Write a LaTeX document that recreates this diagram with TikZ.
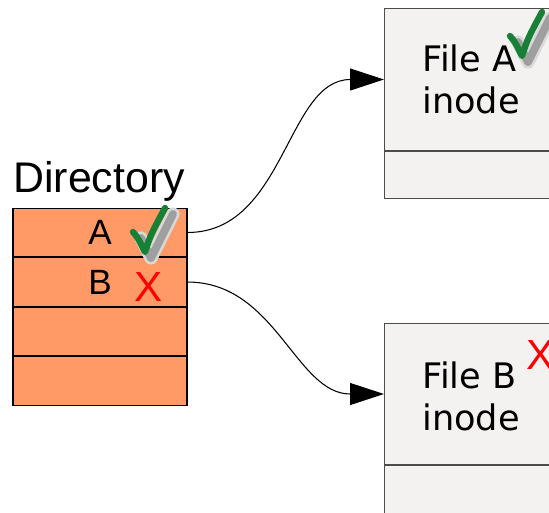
\documentclass[tikz,border=0pt]{standalone}
\usepackage{fontspec}
\setmainfont{Liberation Sans}
\newfontfamily\inodefont{DejaVu Sans}
\usepackage{tikz}
\usetikzlibrary{arrows.meta,positioning,calc}
\definecolor{dirfill}{RGB}{255,153,102}
\definecolor{inodefill}{RGB}{244,241,241}
\definecolor{okgreen}{RGB}{22,128,52}
\tikzset{
  slot/.style={draw=black, line width=0.6pt, fill=dirfill, minimum width=3.48cm,
    minimum height=0.97cm, inner sep=0pt, font=\fontsize{20}{24}\selectfont},
  inodebox/.style={draw=black!70, line width=0.6pt, fill=inodefill, minimum width=5.12cm,
    inner sep=0pt},
  link/.style={-{Triangle[length=0.68cm,width=0.44cm]}, line width=0.6pt},
  bad/.style={red, inner sep=0pt, font=\fontsize{24}{24}\selectfont},
}
% brush-stroke tick with its grey shadow, placed at its left tip
\newcommand{\tickat}[1]{%
  \begin{scope}[shift={#1}]
    \draw[gray!30, line width=7.5pt, line cap=round, line join=round]
      (8,6) -- (18,26) -- (40,-18);
    \draw[gray!75, line width=4.5pt, line cap=round, line join=round]
      (8,6) -- (18,26) -- (40,-18);
    \draw[okgreen, line width=3.6pt, line cap=round, line join=round]
      (0,0) .. controls (5,6) .. (12,20) .. controls (18,2) .. (32,-24);
  \end{scope}
}

\begin{document}
\begin{tikzpicture}[x=0.02cm, y=-0.02cm]
  \useasboundingbox (0,0) rectangle (549,513);
  \clip (0,0) rectangle (549,513);
  % directory entries
  \node[slot] (dirA) at (100,232.5) {A};
  \node[slot, below=0pt of dirA] (dirB) {B};
  \node[slot, below=0pt of dirB] (dirC) {};
  \node[slot, below=0pt of dirC] (dirD) {};
  \node[anchor=base west, inner sep=0pt, font=\fontsize{24.4}{28}\selectfont]
    (dirlabel) at (13,193) {Directory};
  % inodes
  \node[inodebox, minimum height=2.84cm, anchor=north west] (inodeA) at (384,8) {};
  \node[inodebox, minimum height=0.94cm, below=0pt of inodeA] (inodeAtail) {};
  \node[inodebox, minimum height=2.82cm, anchor=north west] (inodeB) at (384,323) {};
  \node[inodebox, minimum height=0.98cm, below=0pt of inodeB] (inodeBtail) {};
  \node[anchor=west, align=left, inner sep=0pt, font=\inodefont\fontsize{20}{24}\selectfont]
    (nameA) at ([xshift=0.76cm]inodeA.west) {File A\\inode};
  \node[anchor=west, align=left, inner sep=0pt, font=\inodefont\fontsize{20}{24}\selectfont]
    (nameB) at ([xshift=0.76cm, yshift=-0.04cm]inodeB.west) {File B\\inode};
  % links
  \draw[link] (dirA.east) to[out=0, in=180] (inodeA.west);
  \draw[link] (dirB.east) to[out=0, in=180] (inodeB.west);
  % marks
  \tickat{(133,232)}
  \tickat{(510,36)}
  \node[bad] (badB) at (149,287) {X};
  \node[bad] (badinode) at (541,355) {X};
\end{tikzpicture}
\end{document}
